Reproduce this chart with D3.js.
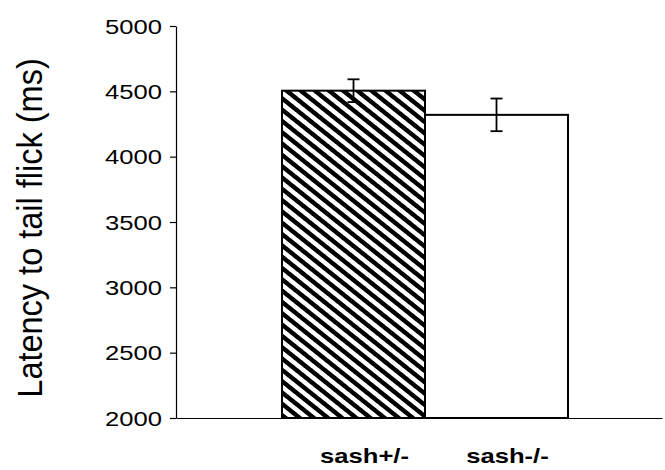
<!DOCTYPE html>
<html>
<head>
<meta charset="utf-8">
<script src="https://cdn.jsdelivr.net/npm/d3@7"></script>
<style>
  html, body { margin: 0; padding: 0; background: #fff; }
  svg { display: block; }
  text { font-family: "Liberation Sans", Arial, Helvetica, sans-serif; fill: #000; }
</style>
</head>
<body>
<svg id="chart" width="665" height="470"></svg>
<script>
// ---- data ----
const categories = ["sash+/-", "sash-/-"];
const means = [4505, 4320];
const errors = [87, 125];
const yTicks = [2000, 2500, 3000, 3500, 4000, 4500, 5000];
const yLabel = "Latency to tail flick (ms)";

// ---- layout ----
const svg = d3.select("#chart");
const axisX = 176, baseY = 418, topY = 26;
const sx = 1.25; // horizontal stretch of the original text

const y = d3.scaleLinear().domain([2000, 5000]).range([baseY, topY]);
const x = d3.scaleBand().domain(categories).range([282, 568]).padding(0);

// hatch pattern
const defs = svg.append("defs");
const pat = defs.append("pattern")
  .attr("id", "hatch")
  .attr("patternUnits", "userSpaceOnUse")
  .attr("width", 8).attr("height", 8)
  .attr("patternTransform", "scale(1.25,1) rotate(-45)");
pat.append("rect").attr("width", 8).attr("height", 8).attr("fill", "#fff");
pat.append("rect").attr("x", 0).attr("width", 4).attr("height", 8).attr("fill", "#000");

// bars
const fills = ["url(#hatch)", "#fff"];
svg.selectAll("rect.bar").data(categories).enter().append("rect")
  .attr("class", "bar")
  .attr("x", d => x(d))
  .attr("y", (d, i) => y(means[i]))
  .attr("width", x.bandwidth())
  .attr("height", (d, i) => baseY - y(means[i]))
  .attr("fill", (d, i) => fills[i])
  .attr("stroke", "#000")
  .attr("stroke-width", 2);

// error bars
const eb = svg.selectAll("g.err").data(categories).enter().append("g").attr("class", "err");
eb.append("line")
  .attr("x1", d => x(d) + x.bandwidth() / 2).attr("x2", d => x(d) + x.bandwidth() / 2)
  .attr("y1", (d, i) => y(means[i] + errors[i])).attr("y2", (d, i) => y(means[i] - errors[i]))
  .attr("stroke", "#000").attr("stroke-width", 1.8);
[1, -1].forEach(s => {
  eb.append("line")
    .attr("x1", d => x(d) + x.bandwidth() / 2 - 6).attr("x2", d => x(d) + x.bandwidth() / 2 + 6)
    .attr("y1", (d, i) => y(means[i] + s * errors[i])).attr("y2", (d, i) => y(means[i] + s * errors[i]))
    .attr("stroke", "#000").attr("stroke-width", 1.8);
});

// y axis
const yAxis = d3.axisLeft(y).tickValues(yTicks).tickSize(6).tickSizeOuter(0).tickFormat(d3.format("d"));
const gy = svg.append("g").attr("transform", `translate(${axisX},0)`).call(yAxis);
gy.select(".domain").attr("stroke", "#000").attr("stroke-width", 1.2);
gy.selectAll(".tick line").attr("stroke", "#000").attr("stroke-width", 1.2);
gy.selectAll(".tick text")
  .attr("x", null).attr("dy", null)
  .attr("font-size", 20.5)
  .attr("text-anchor", "end")
  .attr("dominant-baseline", "central")
  .attr("transform", `translate(-14,0) scale(${sx},1)`);

// x baseline
const xAxis = d3.axisBottom(d3.scaleLinear().domain([0, 1]).range([axisX, 662])).ticks(0).tickSize(0).tickSizeOuter(0);
const gx = svg.append("g").attr("transform", `translate(0,${baseY})`).call(xAxis);
gx.select(".domain").attr("stroke", "#000").attr("stroke-width", 1.2);

// category labels
svg.selectAll("text.cat").data(categories).enter().append("text")
  .attr("class", "cat")
  .attr("font-size", 20.5)
  .attr("font-weight", "bold")
  .attr("text-anchor", "middle")
  .attr("transform", d => `translate(${x(d) + x.bandwidth() / 2 + 11},463) scale(${sx},1)`)
  .text(d => d);

// y label
svg.append("text")
  .attr("font-size", 32.5)
  .attr("text-anchor", "middle")
  .attr("transform", `translate(41.5,228) scale(1.07,1) rotate(-90)`)
  .text(yLabel);
</script>
</body>
</html>
